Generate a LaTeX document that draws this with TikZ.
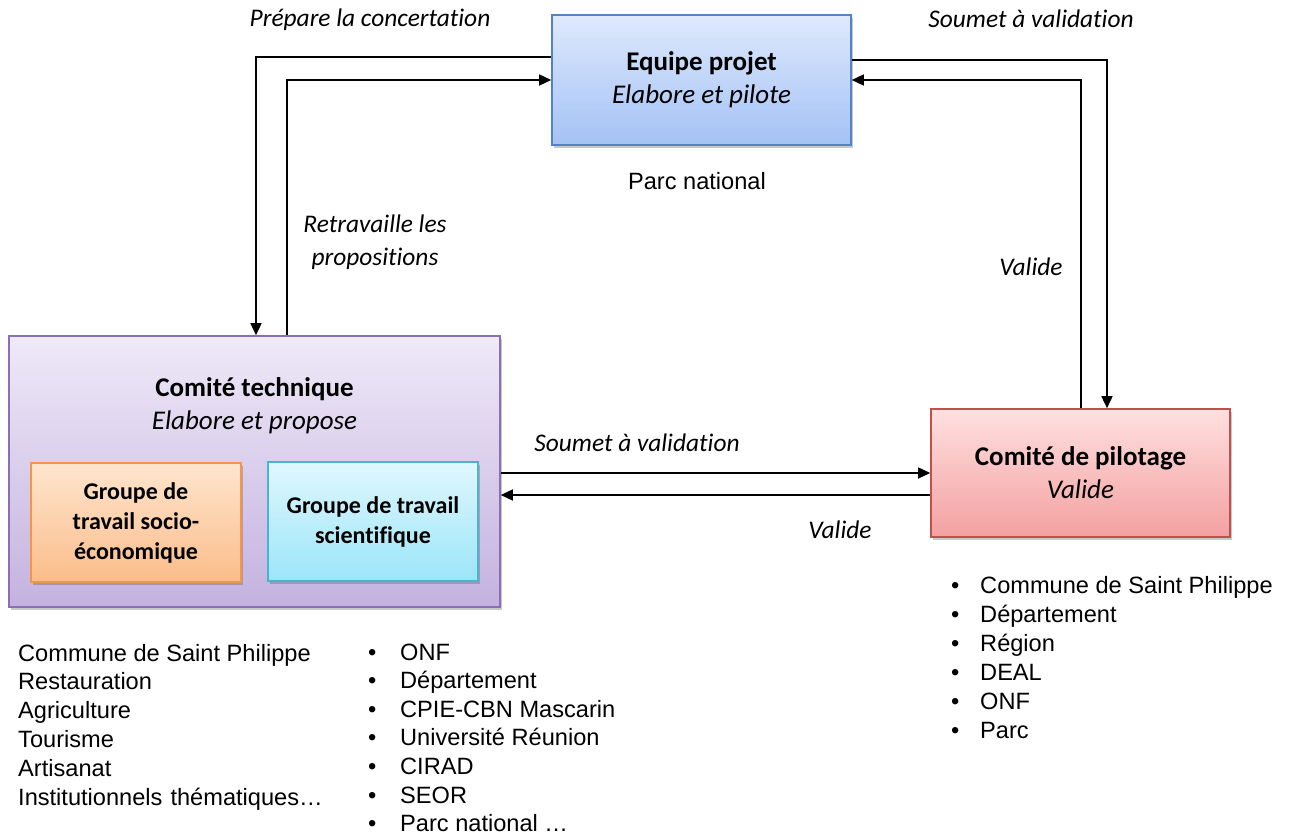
\documentclass[tikz,border=0pt]{standalone}
\usepackage{fontspec}
\setmainfont{Liberation Sans}
\newfontfamily\calibri[Ligatures=NoCommon]{Carlito}
\usetikzlibrary{arrows.meta, positioning, calc, shadows}
\definecolor{projline}{RGB}{84,130,196}
\definecolor{projtop}{RGB}{222,233,252}
\definecolor{projbot}{RGB}{164,194,245}
\definecolor{techline}{RGB}{140,110,180}
\definecolor{techtop}{RGB}{239,233,248}
\definecolor{techbot}{RGB}{195,178,223}
\definecolor{socioline}{RGB}{245,150,70}
\definecolor{sociotop}{RGB}{255,229,206}
\definecolor{sociobot}{RGB}{250,189,138}
\definecolor{sciline}{RGB}{75,180,205}
\definecolor{scitop}{RGB}{224,247,253}
\definecolor{scibot}{RGB}{155,229,248}
\definecolor{pilotline}{RGB}{192,80,77}
\definecolor{pilottop}{RGB}{255,224,224}
\definecolor{pilotbot}{RGB}{243,160,160}

\tikzset{
  boxtext/.style={align=center, inner sep=0pt,
    font=\calibri\fontsize{27}{33}\selectfont},
  box/.style={boxtext, draw, line width=1.6pt,
    drop shadow={shadow xshift=2pt, shadow yshift=-3pt, opacity=0.3, fill=black!70}},
  subbox/.style={box, font=\calibri\bfseries\fontsize{24}{30}\selectfont,
    minimum width=210pt, minimum height=119pt},
  conn/.style={line width=1.5pt, -{Triangle[length=12pt,width=11pt]}},
  lbl/.style={font=\calibri\itshape\fontsize{25.4}{33}\selectfont, align=center, inner sep=0pt},
  lst/.style={anchor=base west, inner sep=0pt, font=\fontsize{23.6}{28.8}\selectfont}
}

\begin{document}
\begin{tikzpicture}[x=1pt, y=-1pt]
    \useasboundingbox (0,0) rectangle (1289,834);

    % The Boxes
    \node[box, draw=projline, top color=projtop, bottom color=projbot,
          minimum width=299pt, minimum height=130pt] (equipe) at (701.5,80)
        {\textbf{Equipe projet}\\\textit{Elabore et pilote}};
    \node[box, draw=techline, top color=techtop, bottom color=techbot,
          minimum width=491pt, minimum height=271pt] (tech) at (254.5,471.5) {};
    \node[boxtext] (techtitle) at (254.5,406)
        {\textbf{Comité technique}\\\textit{Elabore et propose}};
    \node[subbox, draw=socioline, top color=sociotop, bottom color=sociobot]
        (socio) at (136,522.5) {Groupe de\\travail socio-\\économique};
    \node[subbox, draw=sciline, top color=scitop, bottom color=scibot]
        (scient) at (373,521.5) {Groupe de travail\\scientifique};
    \node[box, draw=pilotline, top color=pilottop, bottom color=pilotbot,
          minimum width=299pt, minimum height=128pt] (pilot) at (1080.5,473)
        {\textbf{Comité de pilotage}\\\textit{Valide}};

    % The Connectors
    \draw[conn] ([yshift=23pt]equipe.west) -| ([xshift=1.5pt]tech.north);
    \draw[conn] ([xshift=32.5pt]tech.north) |- (equipe.west);
    \draw[conn] ([yshift=20pt]equipe.east) -| ([xshift=26.5pt]pilot.north);
    \draw[conn] ([xshift=0.5pt]pilot.north) |- (equipe.east);
    \draw[conn] (tech.east |- pilot.west) -- (pilot.west);
    \draw[conn] ([yshift=-22pt]pilot.west) -- ([yshift=-23.5pt]tech.east);

    % Labels
    \node[lbl] (prepare) at (370,20) {Prépare la concertation};
    \node[lbl] (soumethaut) at (1031,19) {Soumet à validation};
    \node[lbl] (retravaille) at (375,242) {Retravaille les\\propositions};
    \node[lbl] (validehaut) at (1031,267) {Valide};
    \node[lbl] (soumetbas) at (637,443) {Soumet à validation};
    \node[lbl] (validebas) at (840,530) {Valide};
    \node[font=\fontsize{23.6}{28.8}\selectfont, inner sep=0pt] (parc) at (697,181) {Parc national};

    % Member lists
    \foreach \txt [count=\i from 0] in {Commune de Saint Philippe, Restauration,
        Agriculture, Tourisme, Artisanat, Institutionnels\hspace{1.5pt} thématiques…} {
        \node[lst] (socio\i) at (18,661+28.8*\i) {\txt};
    }
    \foreach \txt [count=\i from 0] in {ONF, Département, CPIE-CBN Mascarin,
        Université Réunion, CIRAD, SEOR, Parc national …} {
        \node[lst] (puce\i) at (368,660+28.6*\i) {•};
        \node[lst] (sci\i) at (400,660+28.6*\i) {\txt};
    }
    \foreach \txt [count=\i from 0] in {Commune de Saint Philippe, Département,
        Région, DEAL, ONF, Parc} {
        \node[lst] (pointe\i) at (951,593+29*\i) {•};
        \node[lst] (pilot\i) at (980,593+29*\i) {\txt};
    }
\end{tikzpicture}
\end{document}
